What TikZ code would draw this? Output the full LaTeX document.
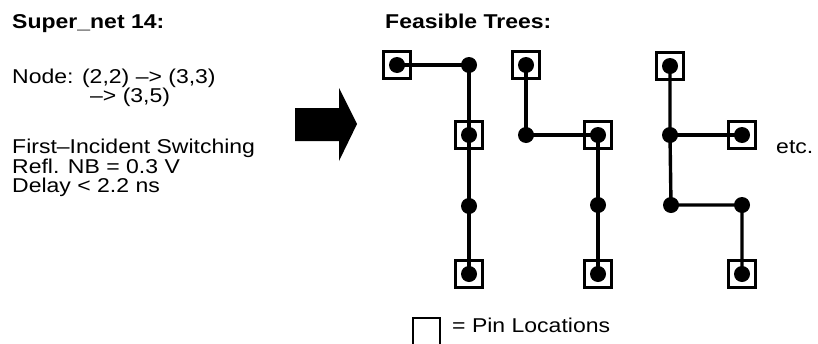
\documentclass[tikz,border=0pt]{standalone}
\usepackage{fontspec}
\newfontfamily\hv[FakeStretch=1.15,
  BoldFont={Liberation Sans Bold},BoldFeatures={FakeStretch=1.15}]{Liberation Sans}
\begin{document}
\begin{tikzpicture}[x=1pt,y=-1pt,
  txt/.style={anchor=base west,inner sep=0pt,font=\hv\fontsize{20}{18.5}\selectfont},
  head/.style={txt,font=\hv\bfseries\fontsize{20}{18.5}\selectfont},
  dotn/.style={circle,fill=black,minimum size=16pt,inner sep=0pt},
  pinbox/.style={draw=black,line width=2.4pt,minimum size=27pt,inner sep=0pt},
  wire/.style={line width=3.4pt}]
\useasboundingbox (0,0) rectangle (818,343);

% left column: net description
\node[head] (title) at (12,28) {Super\_net 14:};
\node[txt] (node1) at (12,83) {Node: (2,2) –> (3,3)};
\node[txt] (node2) at (90,102) {–> (3,5)};
% the base of a multi-line node is the baseline of its last line
\node[txt,align=left] (spec) at (12,192) {First–Incident Switching\\Refl. NB = 0.3 V\\Delay < 2.2 ns};

% block arrow
\fill (295,108) -- (339,108) -- (339,88) -- (357,124) -- (339,161) -- (339,141) -- (295,141) -- cycle;

% right side: trees
\node[head] (trees) at (385,28) {Feasible Trees:};

% tree 1
\node[dotn] (a1) at (397,65) {};  \node[pinbox] at (a1) {};
\node[dotn] (b1) at (469,65) {};
\node[dotn] (c1) at (469,135) {}; \node[pinbox] at (c1) {};
\node[dotn] (d1) at (469,206) {};
\node[dotn] (e1) at (469,274) {}; \node[pinbox] at (e1) {};
\draw[wire] (a1.center) -- (b1.center) -- (c1.center) -- (d1.center) -- (e1.center);

% tree 2
\node[dotn] (a2) at (526,65) {};  \node[pinbox] at (a2) {};
\node[dotn] (b2) at (526,135) {};
\node[dotn] (c2) at (598,135) {}; \node[pinbox] at (c2) {};
\node[dotn] (d2) at (598,205) {};
\node[dotn] (e2) at (598,274) {}; \node[pinbox] at (e2) {};
\draw[wire] (a2.center) -- (b2.center) -- (c2.center) -- (d2.center) -- (e2.center);

% tree 3
\node[dotn] (a3) at (670,66) {};  \node[pinbox] at (a3) {};
\node[dotn] (b3) at (670,135) {};
\node[dotn] (c3) at (742,135) {}; \node[pinbox] at (c3) {};
\node[dotn] (d3) at (671,205) {};
\node[dotn] (e3) at (742,205) {};
\node[dotn] (f3) at (742,274) {}; \node[pinbox] at (f3) {};
\draw[wire] (a3.center) -- (b3.center) -- (d3.center) -- (e3.center) -- (f3.center);
\draw[wire] (b3.center) -- (c3.center);

\node[txt] (etc) at (776,153) {etc.};

% legend
\coordinate (lg) at (426,318);
\draw[line width=2pt] ([xshift=-13.5pt,yshift=-28pt]lg) -- ([xshift=-13.5pt]lg) -- ([xshift=13.5pt]lg) -- ([xshift=13.5pt,yshift=-28pt]lg);
\node[txt] (legend) at (452,332) {= Pin Locations};
\end{tikzpicture}
\end{document}
